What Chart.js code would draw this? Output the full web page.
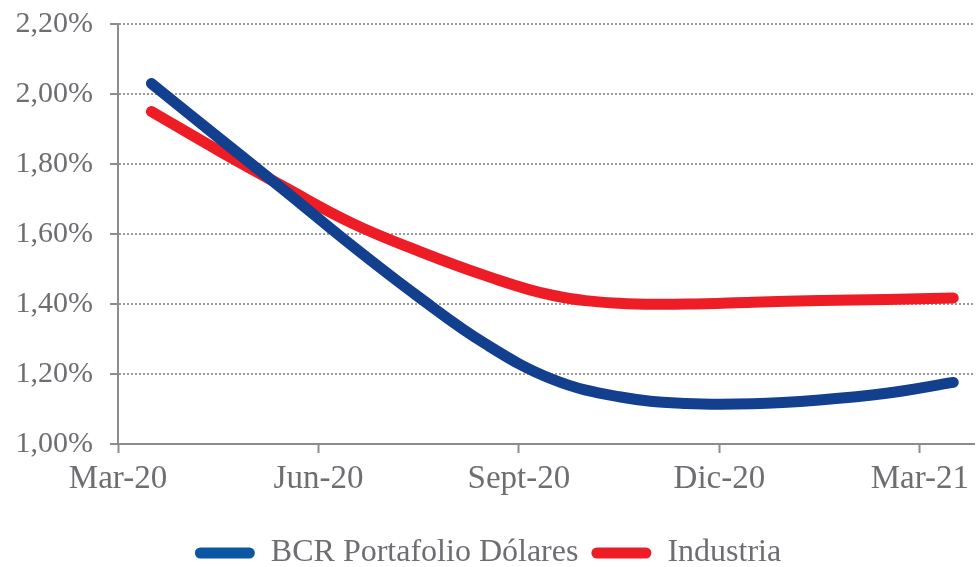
<!DOCTYPE html>
<html>
<head>
<meta charset="utf-8">
<script src="https://cdn.jsdelivr.net/npm/chart.js@4"></script>
<style>
  html, body { margin: 0; padding: 0; background: #fff; }
  #wrap { width: 976px; height: 567px; position: relative; }
</style>
</head>
<body>
<div id="wrap"><canvas id="rendChart"></canvas></div>
<script>
// monthly categories and the quarterly labels shown on the axis
const months = ['Mar-20', 'Abr-20', 'May-20', 'Jun-20', 'Jul-20', 'Ago-20', 'Sept-20',
                'Oct-20', 'Nov-20', 'Dic-20', 'Ene-21', 'Feb-21', 'Mar-21'];
const tickLabels = ['Mar-20', 'Jun-20', 'Sept-20', 'Dic-20', 'Mar-21'];

// rendimiento (%)
const bcrValues = [2.03, 1.876, 1.723, 1.567, 1.42, 1.286, 1.185, 1.135, 1.116, 1.115, 1.126, 1.145, 1.176];
const industriaValues = [1.95, 1.839, 1.733, 1.631, 1.551, 1.481, 1.425, 1.402, 1.40, 1.405, 1.41, 1.413, 1.417];

const yTicks = [1.0, 1.2, 1.4, 1.6, 1.8, 2.0, 2.2];

const textColor = '#6d6e71';
const axisColor = '#8c8c8c';
const legendColors = ['#0c57a4', '#ee1c25'];

const toPoints = values => values.map((v, i) => ({ x: i, y: v }));

// pull the legend a bit lower than Chart.js puts it
const legendShift = {
    id: 'legendShift',
    afterInit(chart) {
        const fit = chart.legend.fit;
        chart.legend.fit = function() {
            fit.call(this);
            this.height -= 12;
        };
    }
};

document.addEventListener('DOMContentLoaded', function() {
    const ctx = document.getElementById('rendChart').getContext('2d');
    new Chart(ctx, {
        type: 'line',
        plugins: [legendShift],
        data: {
            datasets: [{
                label: 'BCR Portafolio Dólares',
                data: toPoints(bcrValues),
                borderColor: '#133f8f',
                backgroundColor: '#133f8f',
                borderWidth: 11,
                borderCapStyle: 'round',
                borderJoinStyle: 'round',
                pointRadius: 0,
                tension: 0.4
            }, {
                label: 'Industria',
                data: toPoints(industriaValues),
                borderColor: '#ee1c25',
                backgroundColor: '#ee1c25',
                borderWidth: 11,
                borderCapStyle: 'round',
                borderJoinStyle: 'round',
                pointRadius: 0,
                tension: 0.4
            }]
        },
        options: {
            responsive: true,
            maintainAspectRatio: false,
            animation: false,
            layout: {
                padding: { top: 24, left: 0, right: 0, bottom: 0 }
            },
            scales: {
                x: {
                    type: 'linear',
                    min: -0.5,
                    max: 12.32,
                    afterBuildTicks: scale => {
                        scale.ticks = tickLabels.map(l => ({ value: months.indexOf(l) - 0.5 }));
                    },
                    afterFit: scale => { scale.height = 80; },
                    ticks: {
                        autoSkip: false,
                        maxRotation: 0,
                        padding: 7,
                        color: textColor,
                        font: { family: 'Liberation Serif', size: 33 },
                        callback: value => months[Math.round(value + 0.5)]
                    },
                    grid: {
                        drawOnChartArea: false,
                        drawTicks: true,
                        tickLength: 9,
                        tickColor: axisColor,
                        tickWidth: 2
                    },
                    border: { color: axisColor, width: 2 }
                },
                y: {
                    min: 1.0,
                    max: 2.2,
                    afterBuildTicks: scale => {
                        scale.ticks = yTicks.map(v => ({ value: v }));
                    },
                    afterFit: scale => {
                        scale.width = 118;
                        scale.paddingTop = 0;
                        scale.paddingBottom = 0;
                    },
                    ticks: {
                        padding: 17,
                        color: textColor,
                        font: { family: 'Liberation Serif', size: 30 },
                        callback: value => value.toFixed(2).replace('.', ',') + '%'
                    },
                    grid: {
                        color: '#999999',
                        lineWidth: 2,
                        tickLength: 8,
                        tickColor: axisColor,
                        tickWidth: 2,
                        tickBorderDash: []
                    },
                    border: { color: axisColor, width: 2, dash: [2, 2] }
                }
            },
            plugins: {
                tooltip: { enabled: false },
                legend: {
                    position: 'bottom',
                    labels: {
                        boxWidth: 60,
                        boxHeight: 11,
                        useBorderRadius: true,
                        borderRadius: 5.5,
                        padding: 13,
                        color: textColor,
                        font: { family: 'Liberation Serif', size: 32 },
                        generateLabels: chart => Chart.defaults.plugins.legend.labels.generateLabels(chart)
                            .map((item, i) => Object.assign(item, {
                                fillStyle: legendColors[i],
                                strokeStyle: legendColors[i],
                                lineWidth: 0
                            }))
                    }
                }
            }
        }
    });
});
</script>
</body>
</html>
